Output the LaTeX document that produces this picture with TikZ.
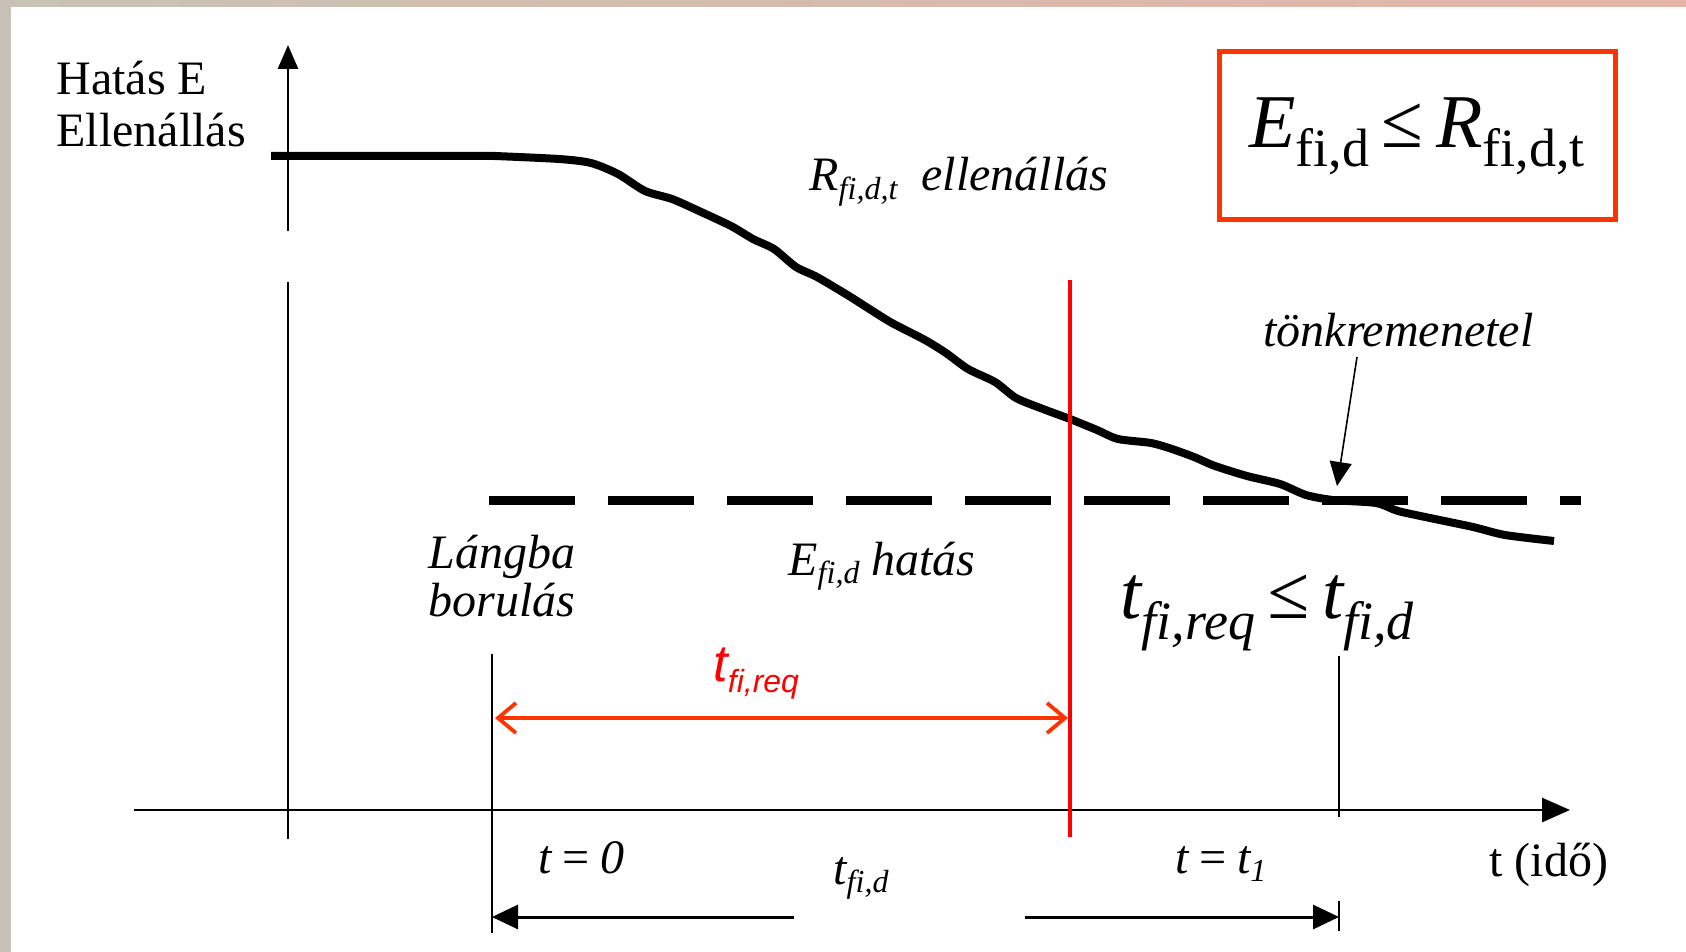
\documentclass[tikz,border=0pt]{standalone}
\usepackage{fontspec}
\setmainfont{Liberation Serif}
\newfontfamily\arialfont{Liberation Sans}
\usetikzlibrary{arrows.meta}
\definecolor{redline}{HTML}{FF0000}
\definecolor{redbox}{HTML}{FF3300}
\definecolor{frameA}{HTML}{C8C2B6}
\definecolor{frameB}{HTML}{E4B4A8}
\newcommand{\lo}[3][-.2em]{\raisebox{#1}{\fontsize{#2}{#2}\selectfont #3}}
\tikzset{
  lbl/.style={inner sep=0pt, anchor=base west, font=\fontsize{24pt}{26pt}\selectfont},
  itl/.style={lbl, font=\fontsize{24pt}{26pt}\selectfont\itshape},
  axisline/.style={line width=1.4pt},
  tickline/.style={line width=.7pt},
  rcurve/.style={line width=4pt, line join=round},
  edline/.style={line width=4.5pt, dash pattern=on 43pt off 16.5pt},
  redvert/.style={draw=redline, line width=2pt},
  reqarr/.style={draw=redbox, line width=1.9pt,
    {Straight Barb[length=9pt, width=15pt]}-{Straight Barb[length=9pt, width=15pt]}},
  dimarr/.style={line width=1.5pt, -{Triangle[length=13pt, width=12pt]}},
  ptrarr/.style={line width=.8pt, -{Triangle[length=12pt, width=11pt]}},
  rbox/.style={draw=redbox, line width=2.5pt, minimum width=198pt, minimum height=84pt,
    inner sep=0pt, fill=white}
}

\begin{document}
\begin{tikzpicture}[x=0.5pt, y=-0.5pt]
  \useasboundingbox (0,0) rectangle (1686,952);
  \shade[left color=frameA, right color=frameB] (0,0) rectangle (1686,952);
  \fill[white] (11,7) rectangle (1686,952);

  % axes
  \draw[axisline] (288,839) -- (288,282);
  \draw[axisline, -{Triangle[length=12pt, width=10pt]}] (288,231) -- (288,45);
  \draw[axisline, -{Triangle[length=14pt, width=12pt]}] (134,810) -- (1570,810);
  \node[lbl] (hatas) at (56,95) {Hatás E};
  \node[lbl] (ellen) at (56,147) {Ellenállás};
  \node[lbl] (ido) at (1489,876) {t (idő)};

  % resistance and effect
  \draw[rcurve] (271,156) -- plot[smooth, tension=.45] coordinates {(495,156) (559,159)
    (591,163) (618,174) (645,191) (672,199) (699,211) (731,226) (753,239) (774,249)
    (796,267) (817,277) (849,296) (871,310) (892,323) (925,340) (946,353) (968,369)
    (995,382) (1016,398) (1043,409) (1070,419) (1097,430) (1118,439) (1151,443)
    (1172,449) (1194,457) (1215,466) (1247,476) (1280,484) (1306,495) (1333,500)
    (1376,503) (1398,511) (1430,518) (1473,527) (1505,535) (1554,541)};
  \draw[edline] (489,500) -- (1581,500);
  \node[itl] (rlab) at (809,191) {R\lo[-.18em]{16pt}{fi,d,t}\ \ ellenállás};
  \node[itl] (elab) at (788,575) {E\lo[-.18em]{16pt}{fi,d} hatás};

  % failure
  \node[itl] (tonk) at (1263,346) {tönkremenetel};
  \coordinate (tk) at (1357,357);
  \coordinate (fail) at (1337,486);
  \draw[ptrarr] (tk) -- (fail);

  % times
  \node[itl] (lang) at (428,568) {Lángba};
  \node[itl] (borul) at (428,616) {borulás};
  \coordinate (t0) at (492,718);
  \coordinate (treqend) at (1070,718);
  \draw[tickline] (492,654) -- (492,933);
  \draw[tickline] (1339,656) -- (1339,817);
  \draw[tickline] (1339,901) -- (1339,931);
  \draw[redvert] (1070,280) -- (1070,837);
  \draw[reqarr] ([xshift=1.5pt]t0) -- ([xshift=-1pt]treqend);
  \node[lbl, font=\fontsize{26pt}{28pt}\selectfont\arialfont\itshape, text=redline]
    (treq) at (713,681) {t\lo[-.22em]{16pt}{fi,req}};

  \node[itl] (tnull) at (538,873) {t\,=\,0};
  \node[itl] (tone) at (1175,873) {t\,=\,t\lo[-.18em]{16pt}{1}};
  \node[itl] (tfid) at (833,884) {t\lo[-.18em]{16pt}{fi,d}};
  \coordinate (la) at (794,917);
  \coordinate (lb) at (492,917);
  \coordinate (ra) at (1025,917);
  \coordinate (rb) at (1339,917);
  \draw[dimarr] (la) -- (lb);
  \draw[dimarr] (ra) -- (rb);

  % check formulas
  \node[itl, font=\fontsize{38pt}{40pt}\selectfont\itshape] (tcheck) at (1120,618)
    {t\lo[-.28em]{27pt}{fi,req}\,≤\,t\lo[-.28em]{27pt}{fi,d}};
  \node[rbox] (rcheck) at (1417,136) {\fontsize{38pt}{40pt}\selectfont
    \textit{E}\lo[-.25em]{27pt}{fi,d}\,≤\,\textit{R}\lo[-.25em]{27pt}{fi,d,t}};
\end{tikzpicture}
\end{document}
